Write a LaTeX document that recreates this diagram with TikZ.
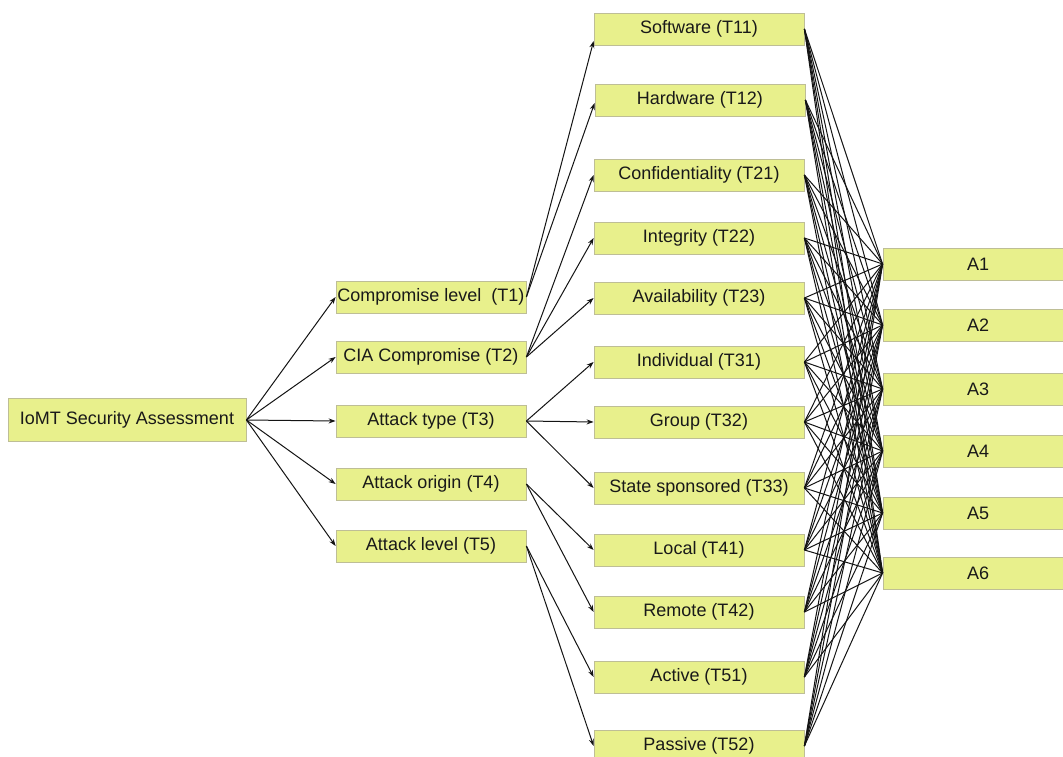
\documentclass[tikz,border=0pt]{standalone}
\usepackage{fontspec}
\setmainfont{Liberation Sans}
\usetikzlibrary{arrows.meta}
\definecolor{boxfill}{RGB}{232,240,140}
\definecolor{boxline}{RGB}{190,190,150}
\definecolor{wire}{RGB}{20,20,20}
\begin{document}
\begin{tikzpicture}[x=1pt,y=-1pt,
  box/.style={draw=boxline,fill=boxfill,line width=0.8pt,rectangle,inner sep=0pt,
              font=\fontsize{18}{20}\selectfont,text=black!90},
  rootbox/.style={box,minimum width=238pt,minimum height=43pt},
  midbox/.style={box,minimum width=190pt,minimum height=32pt},
  leafbox/.style={box,minimum width=210pt,minimum height=32pt},
  outbox/.style={box,minimum width=190pt,minimum height=32pt},
  arr/.style={draw=wire,line width=1pt,-{Stealth[length=7pt,width=5pt]}},
  link/.style={draw=wire,line width=1pt}]
\clip (0,0) rectangle (1063,757);
\fill[white] (0,0) rectangle (1063,757);

% root
\node[rootbox] (root) at (127,420) {IoMT Security Assessment};

% threat categories
\node[midbox] (t1) at (431,297) {Compromise level\ \ (T1)};
\node[midbox] (t2) at (431,357) {CIA Compromise (T2)};
\node[midbox] (t3) at (431,421) {Attack type (T3)};
\node[midbox] (t4) at (431,484) {Attack origin (T4)};
\node[midbox] (t5) at (431,546) {Attack level (T5)};

% sub-categories
\node[leafbox] (t11) at (699,29)  {Software (T11)};
\node[leafbox] (t12) at (700,100) {Hardware (T12)};
\node[leafbox] (t21) at (699,175) {Confidentiality (T21)};
\node[leafbox] (t22) at (699,238) {Integrity (T22)};
\node[leafbox] (t23) at (699,298) {Availability (T23)};
\node[leafbox] (t31) at (699,362) {Individual (T31)};
\node[leafbox] (t32) at (699,422) {Group (T32)};
\node[leafbox] (t33) at (699,488) {State sponsored (T33)};
\node[leafbox] (t41) at (699,550) {Local (T41)};
\node[leafbox] (t42) at (699,612) {Remote (T42)};
\node[leafbox] (t51) at (699,677) {Active (T51)};
\node[leafbox] (t52) at (699,746) {Passive (T52)};

% alternatives
\node[outbox] (a1) at (978,264) {A1};
\node[outbox] (a2) at (978,325) {A2};
\node[outbox] (a3) at (978,389) {A3};
\node[outbox] (a4) at (978,451) {A4};
\node[outbox] (a5) at (978,513) {A5};
\node[outbox] (a6) at (978,573) {A6};

% root to categories
\foreach \c in {t1,t2,t3,t4,t5}
  \draw[arr] (root.east) -- (\c.west);

% categories to sub-categories
\draw[arr] (t1.east) -- ([yshift=-12pt]t11.west);
\draw[arr] (t1.east) -- ([yshift=-3pt]t12.west);
\foreach \s in {t21,t22,t23} \draw[arr] (t2.east) -- (\s.west);
\foreach \s in {t31,t32,t33} \draw[arr] (t3.east) -- (\s.west);
\foreach \s in {t41,t42} \draw[arr] (t4.east) -- (\s.west);
\foreach \s in {t51,t52} \draw[arr] (t5.east) -- (\s.west);

% every sub-category to every alternative
\foreach \s in {t11,t12,t21,t22,t23,t31,t32,t33,t41,t42,t51,t52}
  \foreach \a in {a1,a2,a3,a4,a5,a6}
    \draw[link] (\s.east) -- (\a.west);
\end{tikzpicture}
\end{document}
